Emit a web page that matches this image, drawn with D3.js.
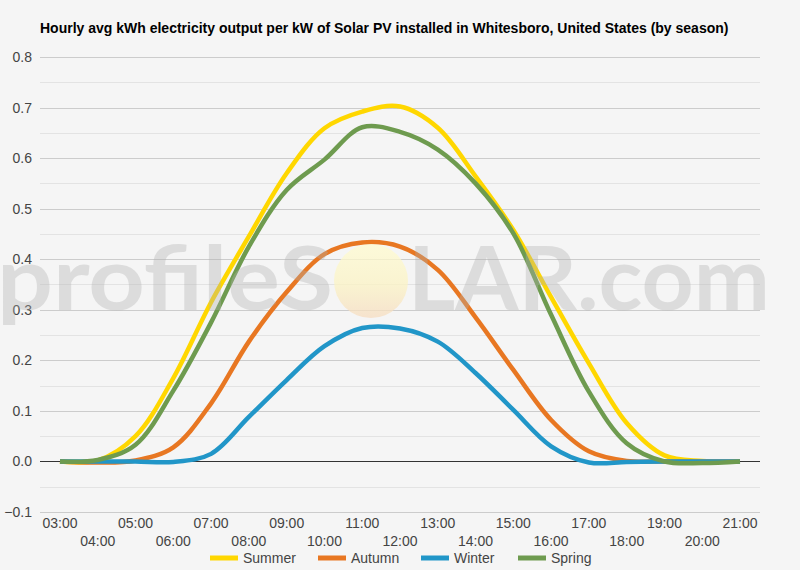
<!DOCTYPE html>
<html>
<head>
<meta charset="utf-8">
<script src="https://cdn.jsdelivr.net/npm/d3@7"></script>
<style>
  body { margin: 0; background: #f5f5f5; }
  svg { display: block; font-family: Arial, "Liberation Sans", sans-serif; }
</style>
</head>
<body>
<svg id="chart" width="800" height="570"></svg>
<script>
var hours = ["03:00","04:00","05:00","06:00","07:00","08:00","09:00","10:00","11:00","12:00",
             "13:00","14:00","15:00","16:00","17:00","18:00","19:00","20:00","21:00"];
var summer = [0, 0.002, 0.05, 0.165, 0.315, 0.445, 0.57, 0.659, 0.692, 0.702, 0.66, 0.564, 0.458, 0.325, 0.194, 0.076, 0.012, 0.001, 0];
var autumn = [0, -0.002, 0.002, 0.028, 0.115, 0.237, 0.335, 0.41, 0.433, 0.425, 0.379, 0.285, 0.181, 0.082, 0.02, 0.001, 0, 0, 0];
var winter = [0, 0, 0, -0.001, 0.015, 0.088, 0.161, 0.228, 0.264, 0.263, 0.237, 0.175, 0.102, 0.03, -0.002, -0.001, 0, 0, 0];
var spring = [0, 0.003, 0.033, 0.14, 0.275, 0.425, 0.537, 0.597, 0.661, 0.652, 0.617, 0.55, 0.451, 0.29, 0.138, 0.036, 0, -0.003, 0];
var seriesNames = ["Summer", "Autumn", "Winter", "Spring"];
var seriesColors = ["#ffd700", "#e87722", "#2196c8", "#6e9b4f"];
var yTicks = [-0.1, 0, 0.1, 0.2, 0.3, 0.4, 0.5, 0.6, 0.7, 0.8];

var svg = d3.select("#chart");
var W = 800, H = 570;
var plotLeft = 40, plotRight = 760, plotTop = 57, plotBottom = 512;

svg.append("rect").attr("width", W).attr("height", H).attr("fill", "#f5f5f5");

var x = d3.scalePoint().domain(hours).range([60, 740]);
var y = d3.scaleLinear().domain([-0.1, 0.8]).range([plotBottom, plotTop]);

// minor gridlines
var minor = d3.range(-0.05, 0.8, 0.1);
svg.append("g").selectAll("line").data(minor).enter().append("line")
    .attr("x1", plotLeft).attr("x2", plotRight)
    .attr("y1", function(d) { return Math.round(y(d)) + 0.5; })
    .attr("y2", function(d) { return Math.round(y(d)) + 0.5; })
    .attr("stroke", "#e3e3e3").attr("stroke-width", 1);

// major gridlines
svg.append("g").selectAll("line").data(yTicks).enter().append("line")
    .attr("x1", plotLeft).attr("x2", plotRight)
    .attr("y1", function(d) { return Math.round(y(d)) + 0.5; })
    .attr("y2", function(d) { return Math.round(y(d)) + 0.5; })
    .attr("stroke", function(d) { return d === 0 ? "#333" : "#cccccc"; })
    .attr("stroke-width", 1);

// y labels
svg.append("g").selectAll("text").data(yTicks).enter().append("text")
    .attr("x", 32).attr("y", function(d) { return y(d) + 5; })
    .attr("text-anchor", "end").attr("font-size", 14).attr("fill", "#444")
    .text(function(d) { return d3.format(".1f")(d); });

// x labels, two rows
svg.append("g").selectAll("text").data(hours).enter().append("text")
    .attr("x", function(d) { return x(d); })
    .attr("y", function(d, i) { return i % 2 === 0 ? 528 : 546; })
    .attr("text-anchor", "middle").attr("font-size", 14).attr("fill", "#444")
    .text(function(d) { return d; });

// lines
var data = [summer, autumn, winter, spring];
var line = d3.line()
    .x(function(d, i) { return x(hours[i]); })
    .y(function(d) { return y(d); })
    .curve(d3.curveCatmullRom.alpha(0.5));

svg.append("g").selectAll("path").data(data).enter().append("path")
    .attr("d", line)
    .attr("fill", "none")
    .attr("stroke", function(d, i) { return seriesColors[i]; })
    .attr("stroke-width", 4.5)
    .attr("stroke-linejoin", "round")
    .attr("stroke-linecap", "butt");

// watermark
var defs = svg.append("defs");
var grad = defs.append("linearGradient").attr("id", "sun").attr("x1", 0).attr("x2", 0).attr("y1", 0).attr("y2", 1);
grad.append("stop").attr("offset", "0%").attr("stop-color", "#fffbd0");
grad.append("stop").attr("offset", "55%").attr("stop-color", "#fbf3c4");
grad.append("stop").attr("offset", "100%").attr("stop-color", "#f6dcc0");

var wm = svg.append("g").attr("pointer-events", "none");
wm.append("text")
    .attr("x", 333).attr("y", 310)
    .attr("text-anchor", "end")
    .attr("font-family", "Lato, 'Open Sans', sans-serif").attr("font-weight", "bold")
    .attr("font-size", 88).attr("fill", "#b0b0b0").attr("opacity", 0.35)
    .attr("textLength", 336).attr("lengthAdjust", "spacingAndGlyphs")
    .text("profileS");
wm.append("circle")
    .attr("cx", 371).attr("cy", 281).attr("r", 37)
    .attr("fill", "url(#sun)").attr("opacity", 0.75);
wm.append("text")
    .attr("x", 408).attr("y", 310)
    .attr("font-family", "Lato, 'Open Sans', sans-serif").attr("font-weight", "bold")
    .attr("font-size", 88).attr("fill", "#b0b0b0").attr("opacity", 0.35)
    .attr("textLength", 362).attr("lengthAdjust", "spacingAndGlyphs")
    .text("LAR.com");

// title
svg.append("text")
    .attr("x", 40).attr("y", 33)
    .attr("font-size", 14).attr("font-weight", "bold").attr("fill", "#000")
    .text("Hourly avg kWh electricity output per kW of Solar PV installed in Whitesboro, United States (by season)");

// legend
var legendX = [210, 318, 421, 518];
var lg = svg.append("g").selectAll("g").data(seriesNames).enter().append("g")
    .attr("transform", function(d, i) { return "translate(" + legendX[i] + ",558)"; });
lg.append("line").attr("x1", 0).attr("x2", 28).attr("y1", 0).attr("y2", 0)
    .attr("stroke", function(d, i) { return seriesColors[i]; }).attr("stroke-width", 5);
lg.append("text").attr("x", 33).attr("y", 5).attr("font-size", 14).attr("fill", "#444")
    .text(function(d) { return d; });
</script>
</body>
</html>
